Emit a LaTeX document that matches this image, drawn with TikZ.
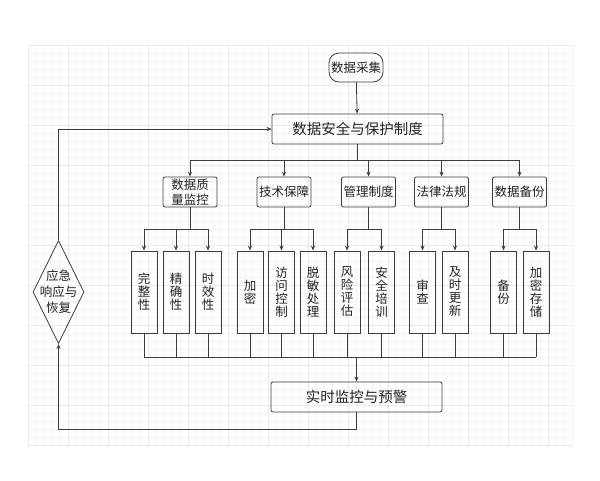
\documentclass[tikz,border=0pt]{standalone}
\usepackage{fontspec}
\newfontfamily\cjk{Noto Sans CJK SC}
\usetikzlibrary{shapes.geometric,arrows.meta,positioning,calc}

\definecolor{linegray}{HTML}{3C3C3C}
\definecolor{txtgray}{HTML}{222222}
\definecolor{gridminor}{HTML}{F5F5F5}
\definecolor{gridmajor}{HTML}{EBEBEB}

\tikzset{
  box/.style={draw=linegray, line width=0.8pt, rounded corners=2pt, inner sep=0pt,
    text=txtgray, align=center, font=\cjk\fontsize{12.5}{15.5}\selectfont},
  mainbox/.style={box, minimum width=171pt, minimum height=30pt,
    font=\cjk\fontsize{14.5}{16}\selectfont},
  catbox/.style={box, minimum width=54pt, minimum height=30pt},
  leafbox/.style={box, rounded corners=0pt, minimum width=26pt, minimum height=82pt,
    font=\cjk\fontsize{12.5}{13}\selectfont},
  link/.style={draw=linegray, line width=0.8pt},
  flow/.style={link, -{Stealth[length=5pt,width=4pt]}},
}

\begin{document}
\begin{tikzpicture}[x=1pt,y=-1pt]
    \useasboundingbox (0,0) rectangle (600,480);

    % background grid
    \foreach \gx in {28,36,...,572} \draw[gridminor] (\gx,45) -- (\gx,445);
    \foreach \gy in {45,53,...,445} \draw[gridminor] (28,\gy) -- (572,\gy);
    \foreach \gx in {28,68,...,572} \draw[gridmajor] (\gx,45) -- (\gx,445);
    \foreach \gy in {45,85,...,445} \draw[gridmajor] (28,\gy) -- (572,\gy);

    % top of the flow
    \node[box, rounded corners=10pt, minimum width=54pt, minimum height=29pt] (collect) at (356,67.5) {数据采集};
    \node[mainbox] (policy) at (357.5,129) {数据安全与保护制度};
    \node[mainbox] (monitor) at (356.5,397) {实时监控与预警};

    % feedback loop
    \node[diamond, draw=linegray, line width=0.8pt, inner sep=0pt,
          minimum width=51pt, minimum height=103pt] (resp) at (58.5,292) {};
    \node[text=txtgray, align=center, inner sep=0pt,
          font=\cjk\fontsize{12.5}{16}\selectfont] (resptxt) at (resp) {应急\\响应与\\恢复};

    % categories
    \node[catbox] (quality) at (190,192) {数据质\\量监控};
    \node[catbox] (tech) at (284,192) {技术保障};
    \node[catbox] (mgmt) at (368.5,192) {管理制度};
    \node[catbox] (law) at (441.5,192) {法律法规};
    \node[catbox] (backup) at (519.5,192) {数据备份};

    % measures
    \node[leafbox] (complete) at (144,292) {完\\整\\性};
    \node[leafbox] (accurate) at (176,292) {精\\确\\性};
    \node[leafbox] (timely) at (208,292) {时\\效\\性};
    \node[leafbox] (encrypt) at (250,292) {加\\密};
    \node[leafbox] (access) at (281.5,292) {访\\问\\控\\制};
    \node[leafbox] (mask) at (313,292) {脱\\敏\\处\\理};
    \node[leafbox] (risk) at (347,292) {风\\险\\评\\估};
    \node[leafbox] (train) at (381.5,292) {安\\全\\培\\训};
    \node[leafbox] (audit) at (422.5,292) {审\\查};
    \node[leafbox] (update) at (455,292) {及\\时\\更\\新};
    \node[leafbox] (copy) at (503.5,292) {备\\份};
    \node[leafbox] (cstore) at (536,292) {加\\密\\存\\储};

    % connectors
    \draw[flow] (collect) -- (policy);
    \draw[link] (policy.south) -- ++(0,16) coordinate (bus);
    \draw[link] (quality |- bus) -- (backup |- bus);
    \foreach \c in {quality,tech,mgmt,law,backup}
        \draw[flow] (\c |- bus) -- (\c);

    \foreach \c/\first/\last/\kids in {quality/complete/timely/{complete,accurate,timely},
                                       tech/encrypt/mask/{encrypt,access,mask},
                                       mgmt/risk/train/{risk,train},
                                       law/audit/update/{audit,update},
                                       backup/copy/cstore/{copy,cstore}} {
        \draw[link] (\c.south) -- ++(0,22) coordinate (\c bus);
        \draw[link] (\first |- \c bus) -- (\last |- \c bus);
        \foreach \k in \kids
            \draw[flow] (\k |- \c bus) -- (\k);
    }

    \coordinate (lowbus) at (356.5,357);
    \foreach \k in {complete,accurate,timely,encrypt,access,mask,risk,train,audit,update,copy,cstore}
        \draw[link] (\k.south) -- (\k |- lowbus);
    \draw[link] (complete |- lowbus) -- (cstore |- lowbus);
    \draw[flow] (monitor |- lowbus) -- (monitor);

    \draw[flow] (monitor.south) -- ++(0,17) -| (resp.south);
    \draw[flow] (resp.north) |- (policy.west);
\end{tikzpicture}
\end{document}
